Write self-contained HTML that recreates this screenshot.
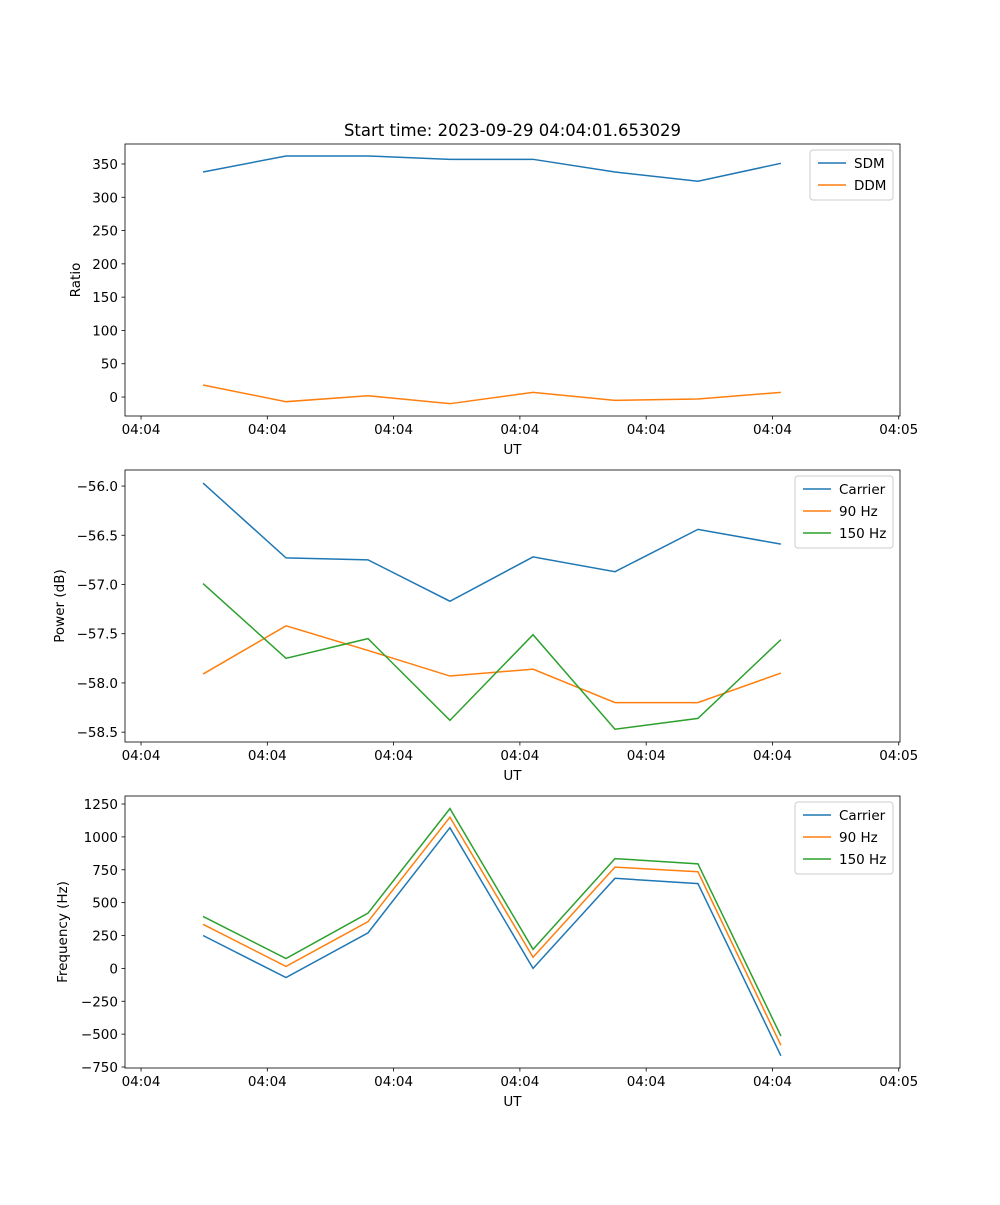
<!DOCTYPE html>
<html><head><meta charset="utf-8"><style>
body{margin:0;background:#fff}
svg{font-family:"DejaVu Sans","Liberation Sans",sans-serif}
</style></head><body>
<svg id="fig" width="1000" height="1200" xmlns="http://www.w3.org/2000/svg"></svg>
<script>
const times=[0.491,1.148,1.797,2.446,3.104,3.753,4.410,5.067];
const xTickLabels=["04:04","04:04","04:04","04:04","04:04","04:04","04:05"];
const sdm=[338,362,362,357,357,338,324,351];
const ddm=[18,-7,2,-10,7,-5,-3,7];
const powCarrier=[-55.97,-56.73,-56.75,-57.17,-56.72,-56.87,-56.44,-56.59];
const pow90=[-57.91,-57.42,-57.67,-57.93,-57.86,-58.20,-58.20,-57.90];
const pow150=[-56.99,-57.75,-57.55,-58.38,-57.51,-58.47,-58.36,-57.56];
const freqCarrier=[250,-70,270,1070,0,685,645,-665];
const freq90=[335,15,355,1150,85,770,735,-585];
const freq150=[395,75,420,1215,145,835,795,-515];
const ticks1=[0,50,100,150,200,250,300,350];
const ticks2=[-58.5,-58.0,-57.5,-57.0,-56.5,-56.0];
const ticks3=[-750,-500,-250,0,250,500,750,1000,1250];

const NS="http://www.w3.org/2000/svg";
const svg=document.getElementById('fig');
function mk(tag,attrs,parent){const e=document.createElementNS(NS,tag);for(const k in attrs)e.setAttribute(k,attrs[k]);(parent||svg).appendChild(e);return e;}
const C=['#1f77b4','#ff7f0e','#2ca02c'];
const L=125,R=900,xmin=-0.127,xmax=6.01;
const xs=v=>L+(v-xmin)/(xmax-xmin)*(R-L);

function panel(name,top,bot,ymin,ymax,yt,fmt,ylabel,series,legend,legBox){
  const g=mk('g',{});
  
  
  const ys=v=>bot-(v-ymin)/(ymax-ymin)*(bot-top);
  series.forEach((s,i)=>{
    const p=mk('polyline',{points:s.map((v,j)=>xs(times[j])+','+ys(v)).join(' '),fill:'none',stroke:C[i],'stroke-width':1.5},g);
    
    
  });
  const fr=mk('rect',{x:L,y:top,width:R-L,height:bot-top,fill:'none',stroke:'#000','stroke-width':0.8},g);
  
  
  xTickLabels.forEach((t,i)=>{
    const x=xs(i);
    mk('line',{x1:x,x2:x,y1:bot,y2:bot+3.5,stroke:'#000','stroke-width':0.8},g);
    const tx=mk('text',{x:x,y:bot+18,'font-size':13.5,'text-anchor':'middle'},g);tx.textContent=t;
    
    
  });
  yt.forEach(v=>{
    const y=ys(v);
    mk('line',{x1:L-3.5,x2:L,y1:y,y2:y,stroke:'#000','stroke-width':0.8},g);
    const tx=mk('text',{x:L-7,y:y+5,'font-size':13.5,'text-anchor':'end'},g);tx.textContent=fmt(v);
    
    
  });
  const xl=mk('text',{x:(L+R)/2,y:bot+38,'font-size':13.5,'text-anchor':'middle'},g);xl.textContent='UT';
  
  
  const lx=legBox[0];
  const yl=mk('text',{x:0,y:0,'font-size':13.5,'text-anchor':'middle',transform:`translate(${legBox[2]},${(top+bot)/2}) rotate(-90)`},g);yl.textContent=ylabel;
  
  
  const lg=mk('g',{},g);
  
  
  mk('rect',{x:lx,y:top+6,width:R-7-lx,height:legend.length*22+6,rx:3,fill:'#fff',stroke:'#ccc','stroke-width':1},lg);
  legend.forEach((n,i)=>{
    const y=top+19+i*22;
    mk('line',{x1:lx+8,x2:lx+36,y1:y,y2:y,stroke:C[i],'stroke-width':1.5},lg);
    const t=mk('text',{x:lx+44,y:y+5,'font-size':13.5},lg);t.textContent=n;
    
    
  });
}
const tt=mk('text',{x:512.5,y:136,'font-size':16.5,'text-anchor':'middle'});
tt.textContent='Start time: 2023-09-29 04:04:01.653029';


panel('ratio-panel',144,416,-28.5,380,ticks1,v=>String(v),'Ratio',[sdm,ddm],['SDM','DDM'],[810,0,80]);
panel('power-panel',470,742,-58.60,-55.837,ticks2,v=>(v<0?'−':'')+Math.abs(v).toFixed(1),'Power (dB)',[powCarrier,pow90,pow150],['Carrier','90 Hz','150 Hz'],[795,0,64]);
panel('frequency-panel',796,1068,-757.6,1311,ticks3,v=>(v<0?'−':'')+Math.abs(v),'Frequency (Hz)',[freqCarrier,freq90,freq150],['Carrier','90 Hz','150 Hz'],[795,0,67]);
</script>
</body></html>
